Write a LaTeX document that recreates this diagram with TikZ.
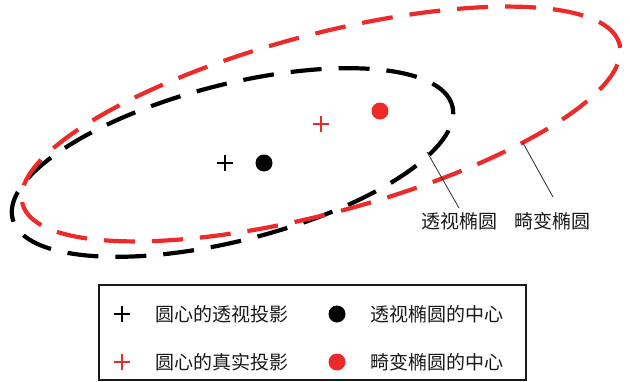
\documentclass[tikz,border=0pt]{standalone}
\usepackage{fontspec}
\setmainfont{Noto Sans CJK SC}
\definecolor{dred}{RGB}{236,42,42}
\tikzset{
  ellline/.style={line width=4.2pt, dash pattern=on 31pt off 17pt},
  plusmark/.pic={\draw[line width=1.4pt] (-8,0) -- (8,0) (0,-8) -- (0,8);},
  dotmark/.style={circle, inner sep=0pt, minimum width=17pt, minimum height=17pt},
  lbl/.style={font=\fontsize{19}{22}\selectfont, inner sep=0pt, text=black!90},
  pointer/.style={line width=0.8pt, black!85}
}
\begin{document}
\begin{tikzpicture}[x=1pt,y=-1pt]
\useasboundingbox (0,0) rectangle (630,381);
% ellipses
\draw[ellline, black, rotate around={14.4:(232.5,162.5)}] (232.5,162.5) ellipse [x radius=227pt, y radius=78pt];
\draw[ellline, dred, rotate around={15:(321,124)}] (321,124) ellipse [x radius=309pt, y radius=89pt];
% centres
\pic[black] at (225,163) {plusmark};
\pic[dred] at (321,124) {plusmark};
\node[dotmark, fill=black] (bdot) at (264,163) {};
\node[dotmark, fill=dred] (rdot) at (380,111) {};
% labels and pointers
\node[lbl] (lab1) at (459.5,221) {透视椭圆};
\node[lbl] (lab2) at (552.5,221) {畸变椭圆};
\coordinate (c1) at (427,152);
\coordinate (c1e) at (459,208);
\coordinate (c2) at (523,143);
\coordinate (c2e) at (553,197);
\draw[pointer] (c1) -- (c1e);
\draw[pointer] (c2) -- (c2e);
% legend
\draw[line width=1.8pt, black!90] (99,285) rectangle (526,379.8);
\pic[black] at (122,314) {plusmark};
\pic[dred] at (122,362) {plusmark};
\node[dotmark, fill=black] (lgdot1) at (337,314) {};
\node[dotmark, fill=dred] (lgdot2) at (337,362) {};
\node[lbl, anchor=west] (lt1) at (155,314) {圆心的透视投影};
\node[lbl, anchor=west] (lt2) at (155,362) {圆心的真实投影};
\node[lbl, anchor=west] (lt3) at (370,314) {透视椭圆的中心};
\node[lbl, anchor=west] (lt4) at (370,362) {畸变椭圆的中心};
\end{tikzpicture}
\end{document}
